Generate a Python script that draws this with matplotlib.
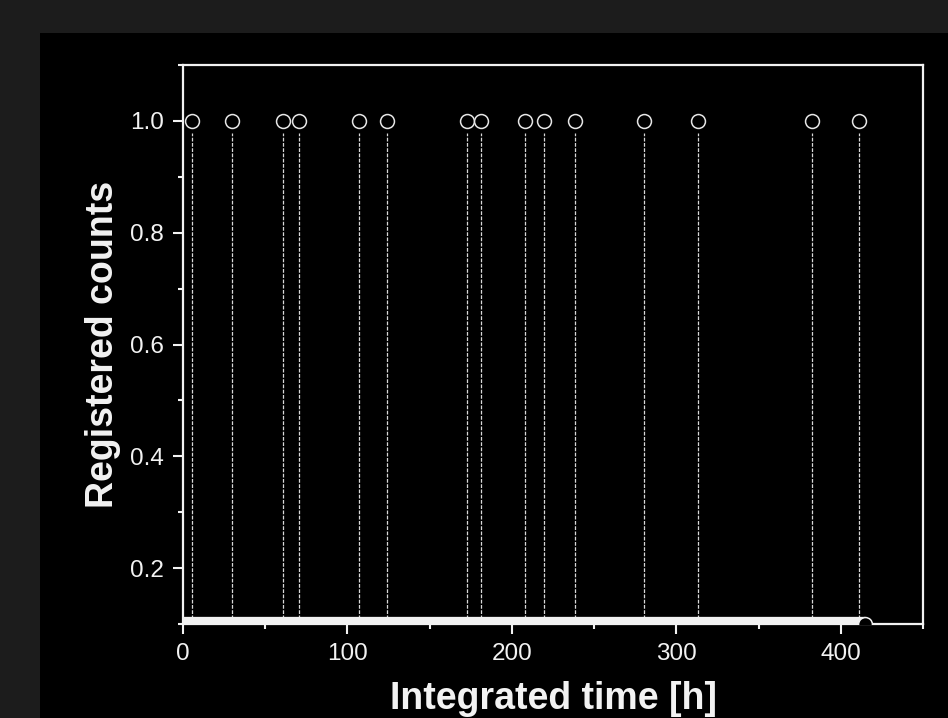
import matplotlib
matplotlib.use("Agg")
import matplotlib.pyplot as plt
from matplotlib.patches import Rectangle
from matplotlib.ticker import MultipleLocator

# times [h] at which a count was registered
event_times = [5.6, 29.7, 60.7, 70.4, 106.8, 123.8, 172.4, 181.5, 207.8,
               219.7, 238.5, 280.2, 313.0, 382.8, 411.1]
event_counts = [1.0] * len(event_times)
# stretch with no counts (sits on the axis floor)
empty_times = [0.0, 415.0]
empty_counts = [0.1, 0.1]

plt.rcParams['font.family'] = ['Liberation Sans', 'DejaVu Sans']
fg = '#f2f2f2'

fig = plt.figure(figsize=(9.48, 7.18), dpi=100, facecolor='#1c1c1c')
fig.patches.append(Rectangle((40 / 948, 0), 1 - 40 / 948, 1 - 33 / 718,
                             transform=fig.transFigure, facecolor='black',
                             edgecolor='none', zorder=-1))
ax = fig.add_axes([183 / 948, 1 - 624 / 718, 740 / 948, 559 / 718])
ax.set_facecolor('black')

ax.plot(empty_times, empty_counts, '-', color=fg, lw=11, solid_capstyle='butt', zorder=3)
ax.plot(empty_times[-1:], empty_counts[-1:], 'o', ms=10, mfc='black', mec=fg, mew=1.1, zorder=4)

ax.vlines(event_times, 0.1, 0.978, colors='#d8d8d8', lw=0.9, linestyles=(0, (3, 1.2)), zorder=2)
ax.plot(event_times, event_counts, 'o', ms=10, mfc='black', mec='#e6e6e6', mew=1.1,
        linestyle='none', zorder=5)

ax.set_xlim(0, 450)
ax.set_ylim(0.1, 1.1)
ax.xaxis.set_major_locator(MultipleLocator(100))
ax.xaxis.set_minor_locator(MultipleLocator(50))
ax.yaxis.set_major_locator(MultipleLocator(0.2))
ax.yaxis.set_minor_locator(MultipleLocator(0.1))
ax.set_yticks([0.2, 0.4, 0.6, 0.8, 1.0])
ax.set_yticklabels(['0.2', '0.4', '0.6', '0.8', '1.0'])

for s in ax.spines.values():
    s.set_color(fg)
    s.set_linewidth(1.6)
ax.tick_params(which='major', direction='out', length=7.5, width=1.5, colors=fg,
               labelsize=17.5, pad=6.5, top=False, right=False)
ax.tick_params(which='minor', direction='out', length=3.8, width=1.5, colors=fg,
               top=False, right=False)

ax.set_xlabel('Integrated time [h]', fontsize=27, fontweight='bold', color=fg, labelpad=11)
ax.set_ylabel('Registered counts', fontsize=27, fontweight='bold', color=fg, labelpad=6)

fig.savefig('out.png', dpi=100, facecolor=fig.get_facecolor())
